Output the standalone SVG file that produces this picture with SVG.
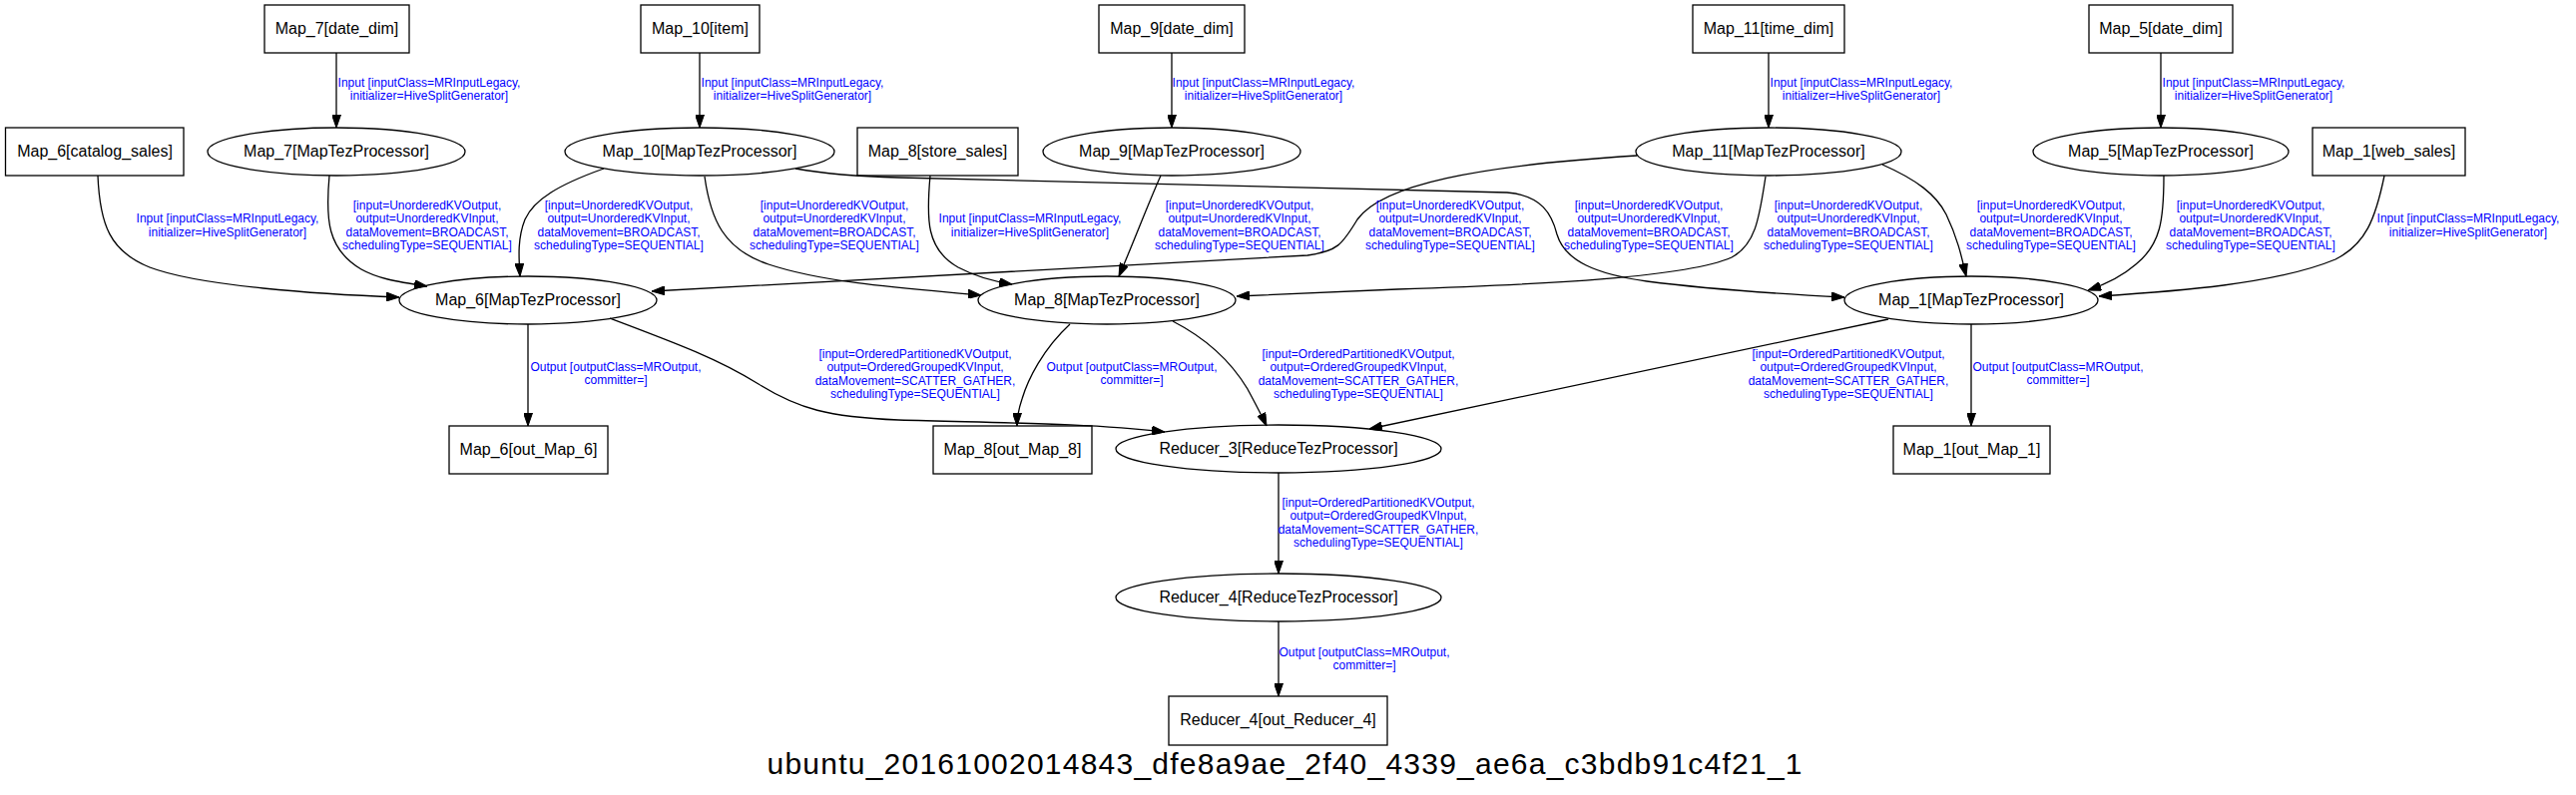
<svg xmlns="http://www.w3.org/2000/svg" width="2581" height="797" viewBox="0 0 2581 797">
<style>
.n{fill:none;stroke:#000;stroke-width:1.3}
.nt{font-family:"Liberation Sans",Arial,Helvetica,sans-serif;font-size:16px;text-anchor:middle;fill:#000}
.e{fill:none;stroke:#000;stroke-width:1.3;marker-end:url(#arr)}
.el{font-family:"Liberation Sans",Arial,Helvetica,sans-serif;font-size:12px;text-anchor:middle;fill:#0000ff}
.title{font-family:"Liberation Sans",Arial,Helvetica,sans-serif;font-size:30px;text-anchor:middle;fill:#000}
</style>
<defs>
<marker id="arr" markerWidth="13" markerHeight="9" refX="13" refY="4.5" orient="auto" markerUnits="userSpaceOnUse">
<path d="M0,0 L13,4.5 L0,9 z" fill="#000" stroke="#000" stroke-width="1"/>
</marker>
</defs>
<rect x="0" y="0" width="2581" height="797" fill="#fff"/>

<g id="connectors">
<g><path class="e" d="M337,53 L337,128"/>
<text class="el" x="430" y="87">Input [inputClass=MRInputLegacy,</text><text class="el" x="430" y="100.3">initializer=HiveSplitGenerator]</text></g>
<g><path class="e" d="M701,53 L701,128"/>
<text class="el" x="794" y="87">Input [inputClass=MRInputLegacy,</text><text class="el" x="794" y="100.3">initializer=HiveSplitGenerator]</text></g>
<g><path class="e" d="M1174,53 L1174,128"/>
<text class="el" x="1266" y="87">Input [inputClass=MRInputLegacy,</text><text class="el" x="1266" y="100.3">initializer=HiveSplitGenerator]</text></g>
<g><path class="e" d="M1772,53 L1772,128"/>
<text class="el" x="1865" y="87">Input [inputClass=MRInputLegacy,</text><text class="el" x="1865" y="100.3">initializer=HiveSplitGenerator]</text></g>
<g><path class="e" d="M2165,53 L2165,128"/>
<text class="el" x="2258" y="87">Input [inputClass=MRInputLegacy,</text><text class="el" x="2258" y="100.3">initializer=HiveSplitGenerator]</text></g>

<g><path class="e" d="M98,176 C100,225 110,252 150,268 C200,287 320,295 400,298"/>
<text class="el" x="228" y="223.3">Input [inputClass=MRInputLegacy,</text><text class="el" x="228" y="236.7">initializer=HiveSplitGenerator]</text></g>
<g><path class="e" d="M330,176 C326,220 328,250 362,270 C378,279 395,282 428,287"/>
<text class="el" x="428" y="210">[input=UnorderedKVOutput,</text><text class="el" x="428" y="223.3">output=UnorderedKVInput,</text><text class="el" x="428" y="236.7">dataMovement=BROADCAST,</text><text class="el" x="428" y="250">schedulingType=SEQUENTIAL]</text></g>
<g><path class="e" d="M605,169 C560,185 535,200 526,220 C518,240 520,260 521,277"/>
<text class="el" x="620" y="210">[input=UnorderedKVOutput,</text><text class="el" x="620" y="223.3">output=UnorderedKVInput,</text><text class="el" x="620" y="236.7">dataMovement=BROADCAST,</text><text class="el" x="620" y="250">schedulingType=SEQUENTIAL]</text></g>
<g><path class="e" d="M706,177 C712,220 725,250 770,265 C830,285 920,290 983,296"/>
<text class="el" x="836" y="210">[input=UnorderedKVOutput,</text><text class="el" x="836" y="223.3">output=UnorderedKVInput,</text><text class="el" x="836" y="236.7">dataMovement=BROADCAST,</text><text class="el" x="836" y="250">schedulingType=SEQUENTIAL]</text></g>
<g><path class="e" d="M932,176 C928,220 928,250 960,268 C975,276 995,282 1014,285"/>
<text class="el" x="1032" y="223.3">Input [inputClass=MRInputLegacy,</text><text class="el" x="1032" y="236.7">initializer=HiveSplitGenerator]</text></g>
<g><path class="e" d="M1163,176 C1150,205 1135,245 1121,277"/>
<text class="el" x="1242" y="210">[input=UnorderedKVOutput,</text><text class="el" x="1242" y="223.3">output=UnorderedKVInput,</text><text class="el" x="1242" y="236.7">dataMovement=BROADCAST,</text><text class="el" x="1242" y="250">schedulingType=SEQUENTIAL]</text></g>
<g><path class="e" d="M1640,156 C1480,166 1385,185 1360,220 C1345,245 1340,252 1310,256 L653,292"/>
<text class="el" x="1453" y="210">[input=UnorderedKVOutput,</text><text class="el" x="1453" y="223.3">output=UnorderedKVInput,</text><text class="el" x="1453" y="236.7">dataMovement=BROADCAST,</text><text class="el" x="1453" y="250">schedulingType=SEQUENTIAL]</text></g>
<g><path class="e" d="M797,169 C830,175 860,177 900,178 L1510,193 C1545,196 1555,215 1560,235 C1568,262 1600,275 1650,282 C1720,291 1790,295 1848,298"/>
<text class="el" x="1652" y="210">[input=UnorderedKVOutput,</text><text class="el" x="1652" y="223.3">output=UnorderedKVInput,</text><text class="el" x="1652" y="236.7">dataMovement=BROADCAST,</text><text class="el" x="1652" y="250">schedulingType=SEQUENTIAL]</text></g>
<g><path class="e" d="M1769,177 C1763,215 1760,245 1735,258 C1690,278 1550,285 1400,290 C1330,293 1280,295 1239,297"/>
<text class="el" x="1852" y="210">[input=UnorderedKVOutput,</text><text class="el" x="1852" y="223.3">output=UnorderedKVInput,</text><text class="el" x="1852" y="236.7">dataMovement=BROADCAST,</text><text class="el" x="1852" y="250">schedulingType=SEQUENTIAL]</text></g>
<g><path class="e" d="M1886,165 C1920,180 1940,195 1950,215 C1962,240 1966,260 1970,277"/>
<text class="el" x="2055" y="210">[input=UnorderedKVOutput,</text><text class="el" x="2055" y="223.3">output=UnorderedKVInput,</text><text class="el" x="2055" y="236.7">dataMovement=BROADCAST,</text><text class="el" x="2055" y="250">schedulingType=SEQUENTIAL]</text></g>
<g><path class="e" d="M2168,176 C2168,220 2165,245 2140,265 C2125,278 2110,285 2092,291"/>
<text class="el" x="2255" y="210">[input=UnorderedKVOutput,</text><text class="el" x="2255" y="223.3">output=UnorderedKVInput,</text><text class="el" x="2255" y="236.7">dataMovement=BROADCAST,</text><text class="el" x="2255" y="250">schedulingType=SEQUENTIAL]</text></g>
<g><path class="e" d="M2389,176 C2380,220 2370,245 2340,260 C2280,285 2180,292 2103,297"/>
<text class="el" x="2473" y="223.3">Input [inputClass=MRInputLegacy,</text><text class="el" x="2473" y="236.7">initializer=HiveSplitGenerator]</text></g>

<g><path class="e" d="M529,325 L529,427"/>
<text class="el" x="617" y="372">Output [outputClass=MROutput,</text><text class="el" x="617" y="385.3">committer=]</text></g>
<g><path class="e" d="M611,319 C680,345 720,360 760,385 C800,410 830,418 900,421 C1000,424 1090,424 1167,433"/>
<text class="el" x="917" y="359">[input=OrderedPartitionedKVOutput,</text><text class="el" x="917" y="372.3">output=OrderedGroupedKVInput,</text><text class="el" x="917" y="385.7">dataMovement=SCATTER_GATHER,</text><text class="el" x="917" y="399">schedulingType=SEQUENTIAL]</text></g>
<g><path class="e" d="M1072,325 C1045,350 1030,380 1024,400 C1020,412 1019,420 1019,427"/>
<text class="el" x="1134" y="372">Output [outputClass=MROutput,</text><text class="el" x="1134" y="385.3">committer=]</text></g>
<g><path class="e" d="M1175,322 C1210,340 1235,365 1250,390 C1258,405 1265,418 1269,427"/>
<text class="el" x="1361" y="359">[input=OrderedPartitionedKVOutput,</text><text class="el" x="1361" y="372.3">output=OrderedGroupedKVInput,</text><text class="el" x="1361" y="385.7">dataMovement=SCATTER_GATHER,</text><text class="el" x="1361" y="399">schedulingType=SEQUENTIAL]</text></g>
<g><path class="e" d="M1892,320 L1372,430"/>
<text class="el" x="1852" y="359">[input=OrderedPartitionedKVOutput,</text><text class="el" x="1852" y="372.3">output=OrderedGroupedKVInput,</text><text class="el" x="1852" y="385.7">dataMovement=SCATTER_GATHER,</text><text class="el" x="1852" y="399">schedulingType=SEQUENTIAL]</text></g>
<g><path class="e" d="M1975,325 L1975,427"/>
<text class="el" x="2062" y="372">Output [outputClass=MROutput,</text><text class="el" x="2062" y="385.3">committer=]</text></g>
<g><path class="e" d="M1281,474 L1281,575"/>
<text class="el" x="1381" y="508">[input=OrderedPartitionedKVOutput,</text><text class="el" x="1381" y="521.3">output=OrderedGroupedKVInput,</text><text class="el" x="1381" y="534.7">dataMovement=SCATTER_GATHER,</text><text class="el" x="1381" y="548">schedulingType=SEQUENTIAL]</text></g>
<g><path class="e" d="M1281,623 L1281,698"/>
<text class="el" x="1367" y="658">Output [outputClass=MROutput,</text><text class="el" x="1367" y="671.3">committer=]</text></g>
</g>

<g id="Map_7_date_dim"><rect class="n" x="265" y="5" width="145" height="48"/><text class="nt" x="337.5" y="34">Map_7[date_dim]</text></g>
<g id="Map_10_item"><rect class="n" x="642" y="5" width="119" height="48"/><text class="nt" x="701.5" y="34">Map_10[item]</text></g>
<g id="Map_9_date_dim"><rect class="n" x="1101" y="5" width="146" height="48"/><text class="nt" x="1174" y="34">Map_9[date_dim]</text></g>
<g id="Map_11_time_dim"><rect class="n" x="1696" y="5" width="152" height="48"/><text class="nt" x="1772" y="34">Map_11[time_dim]</text></g>
<g id="Map_5_date_dim"><rect class="n" x="2093" y="5" width="144" height="48"/><text class="nt" x="2165" y="34">Map_5[date_dim]</text></g>

<g id="Map_6_catalog_sales"><rect class="n" x="5.5" y="128" width="178.5" height="48"/><text class="nt" x="95" y="157">Map_6[catalog_sales]</text></g>
<g id="Map_7_MapTezProcessor"><ellipse class="n" cx="337" cy="152" rx="129" ry="24"/><text class="nt" x="337" y="157">Map_7[MapTezProcessor]</text></g>
<g id="Map_10_MapTezProcessor"><ellipse class="n" cx="701" cy="152" rx="135" ry="24"/><text class="nt" x="701" y="157">Map_10[MapTezProcessor]</text></g>
<g id="Map_8_store_sales"><rect class="n" x="859" y="128" width="161" height="48"/><text class="nt" x="939.5" y="157">Map_8[store_sales]</text></g>
<g id="Map_9_MapTezProcessor"><ellipse class="n" cx="1174" cy="152" rx="129" ry="24"/><text class="nt" x="1174" y="157">Map_9[MapTezProcessor]</text></g>
<g id="Map_11_MapTezProcessor"><ellipse class="n" cx="1772" cy="152" rx="133" ry="24"/><text class="nt" x="1772" y="157">Map_11[MapTezProcessor]</text></g>
<g id="Map_5_MapTezProcessor"><ellipse class="n" cx="2165" cy="152" rx="128" ry="24"/><text class="nt" x="2165" y="157">Map_5[MapTezProcessor]</text></g>
<g id="Map_1_web_sales"><rect class="n" x="2317" y="128" width="153" height="48"/><text class="nt" x="2393.5" y="157">Map_1[web_sales]</text></g>

<g id="Map_6_MapTezProcessor"><ellipse class="n" cx="529" cy="301" rx="129" ry="24"/><text class="nt" x="529" y="306">Map_6[MapTezProcessor]</text></g>
<g id="Map_8_MapTezProcessor"><ellipse class="n" cx="1109" cy="301" rx="129" ry="24"/><text class="nt" x="1109" y="306">Map_8[MapTezProcessor]</text></g>
<g id="Map_1_MapTezProcessor"><ellipse class="n" cx="1975" cy="301" rx="127" ry="24"/><text class="nt" x="1975" y="306">Map_1[MapTezProcessor]</text></g>

<g id="Map_6_out_Map_6"><rect class="n" x="450" y="427" width="159" height="48"/><text class="nt" x="529.5" y="456">Map_6[out_Map_6]</text></g>
<g id="Map_8_out_Map_8"><rect class="n" x="935" y="427" width="159" height="48"/><text class="nt" x="1014.5" y="456">Map_8[out_Map_8]</text></g>
<g id="Reducer_3_ReduceTezProcessor"><ellipse class="n" cx="1281" cy="450" rx="163" ry="24"/><text class="nt" x="1281" y="455">Reducer_3[ReduceTezProcessor]</text></g>
<g id="Map_1_out_Map_1"><rect class="n" x="1897" y="427" width="157" height="48"/><text class="nt" x="1975.5" y="456">Map_1[out_Map_1]</text></g>
<g id="Reducer_4_ReduceTezProcessor"><ellipse class="n" cx="1281" cy="599" rx="163" ry="24"/><text class="nt" x="1281" y="604">Reducer_4[ReduceTezProcessor]</text></g>
<g id="Reducer_4_out_Reducer_4"><rect class="n" x="1171" y="698" width="219" height="49"/><text class="nt" x="1280.5" y="727">Reducer_4[out_Reducer_4]</text></g>

<g id="title"><text class="title" x="1287" y="776" textLength="1037" lengthAdjust="spacing">ubuntu_20161002014843_dfe8a9ae_2f40_4339_ae6a_c3bdb91c4f21_1</text></g>
</svg>
